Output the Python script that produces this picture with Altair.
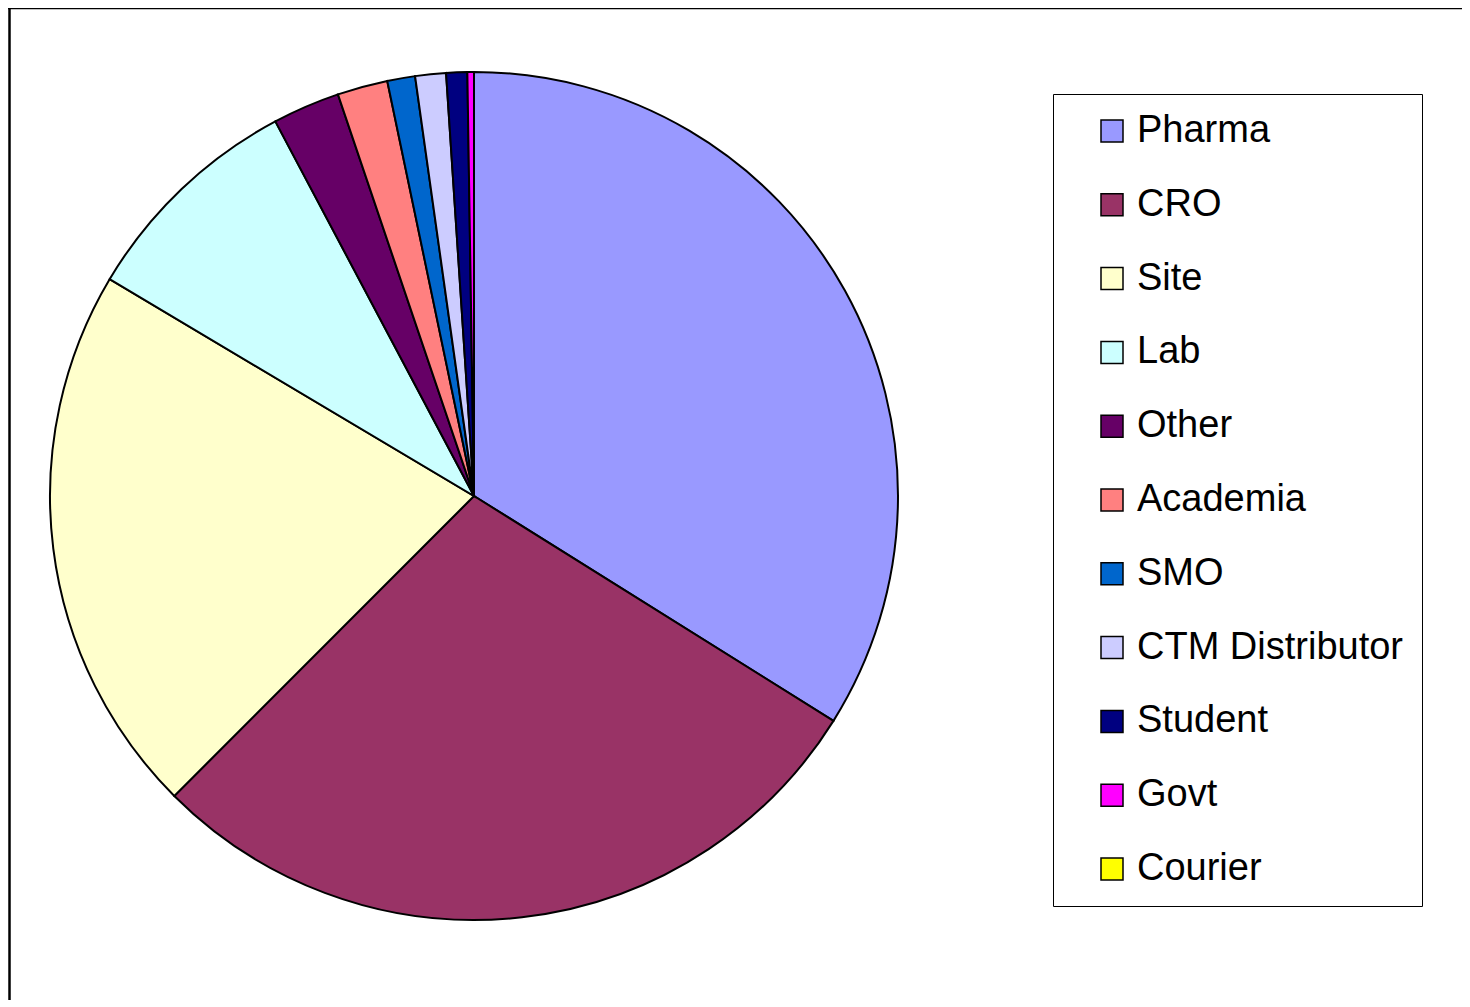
import altair as alt
import pandas as pd

categories = ["Pharma", "CRO", "Site", "Lab", "Other", "Academia", "SMO",
              "CTM Distributor", "Student", "Govt", "Courier"]
shares = [33.9, 28.6, 21.05, 8.7, 2.56, 1.92, 1.06, 1.17, 0.8, 0.25, 0.0]
colors = ["#9999FF", "#993366", "#FFFFCC", "#CCFFFF", "#660066", "#FF8080",
          "#0066CC", "#CCCCFF", "#000080", "#FF00FF", "#FFFF00"]

df = pd.DataFrame({"category": categories, "share": shares,
                   "idx": list(range(len(categories)))})

W, H = 1454, 992

pie = alt.Chart(df).mark_arc(radius=424, stroke="black", strokeWidth=2).encode(
    theta=alt.Theta("share:Q", stack=True),
    order=alt.Order("idx:Q"),
    color=alt.Color(
        "category:N",
        scale=alt.Scale(domain=categories, range=colors),
        legend=alt.Legend(
            title=None, orient="none", legendX=1045, legendY=86,
            strokeColor="black", padding=18, symbolOffset=22,
            symbolType="square", symbolSize=484, symbolStrokeColor="black",
            symbolStrokeWidth=1.5, symbolOpacity=1,
            labelFontSize=38, labelFont="Liberation Sans", labelColor="black",
            labelLimit=600, rowPadding=35.8, labelOffset=6,
        ),
    ),
    x=alt.value(466),
    y=alt.value(488),
)

frame_df = pd.DataFrame({"a": [0]})
top = alt.Chart(frame_df).mark_rule(color="black", strokeWidth=2.5).encode(
    x=alt.value(0), x2=alt.value(W), y=alt.value(0))
left = alt.Chart(frame_df).mark_rule(color="black", strokeWidth=2.5).encode(
    x=alt.value(1.5), y=alt.value(0), y2=alt.value(H))

chart = alt.layer(pie, top, left).properties(
    width=W, height=H, padding=0, autosize=alt.AutoSizeParams(type="none"),
    background="white",
).configure_view(stroke=None)

chart.save("out.html", embed_options={"renderer": "svg", "actions": False})
